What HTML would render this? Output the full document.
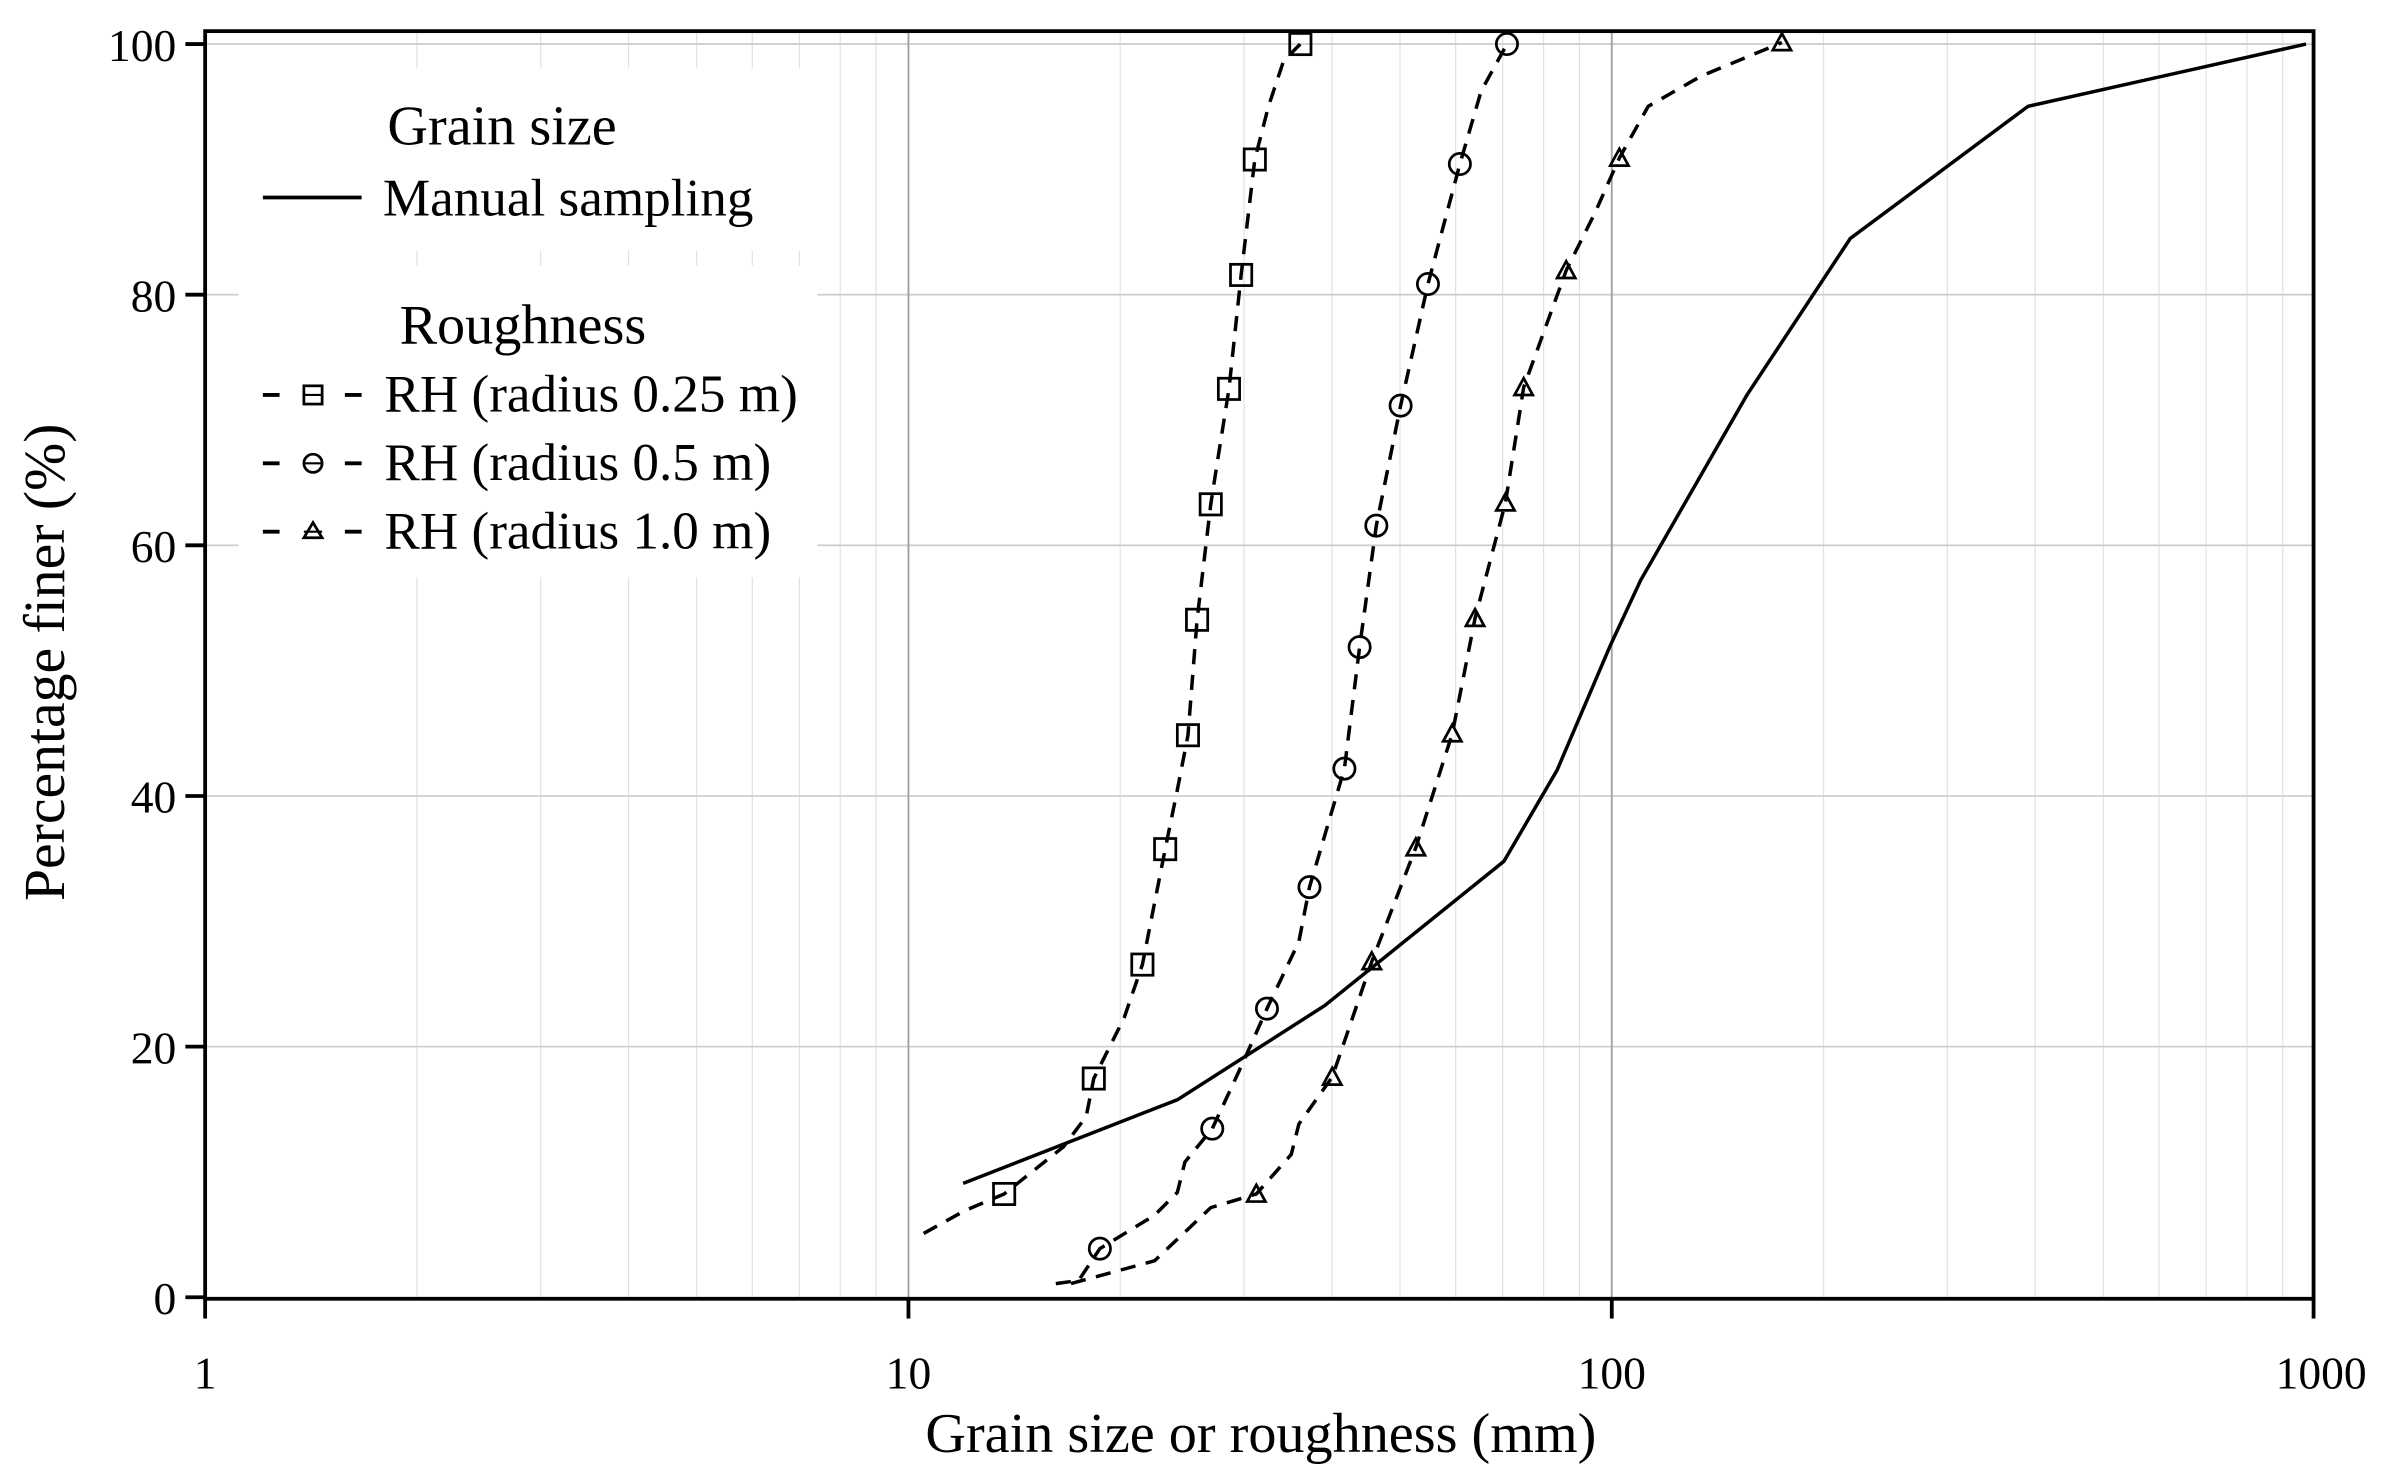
<!DOCTYPE html>
<html><head><meta charset="utf-8"><style>html,body{margin:0;padding:0;background:#fff}svg{display:block}</style></head>
<body>
<svg width="2382" height="1480" viewBox="0 0 1568 974.3" xmlns="http://www.w3.org/2000/svg" font-family="'Liberation Serif', serif">
<rect width="1568" height="974.3" fill="#fff"/>
<g stroke="#e2e2e2" stroke-width="0.8">
<line x1="274.4" y1="21" x2="274.4" y2="855"/><line x1="355.9" y1="21" x2="355.9" y2="855"/><line x1="413.7" y1="21" x2="413.7" y2="855"/><line x1="458.6" y1="21" x2="458.6" y2="855"/><line x1="495.2" y1="21" x2="495.2" y2="855"/><line x1="526.2" y1="21" x2="526.2" y2="855"/><line x1="553.1" y1="21" x2="553.1" y2="855"/><line x1="576.7" y1="21" x2="576.7" y2="855"/>
<line x1="737.4" y1="21" x2="737.4" y2="855"/><line x1="818.9" y1="21" x2="818.9" y2="855"/><line x1="876.7" y1="21" x2="876.7" y2="855"/><line x1="921.6" y1="21" x2="921.6" y2="855"/><line x1="958.2" y1="21" x2="958.2" y2="855"/><line x1="989.2" y1="21" x2="989.2" y2="855"/><line x1="1016.1" y1="21" x2="1016.1" y2="855"/><line x1="1039.7" y1="21" x2="1039.7" y2="855"/>
<line x1="1200.4" y1="21" x2="1200.4" y2="855"/><line x1="1281.9" y1="21" x2="1281.9" y2="855"/><line x1="1339.7" y1="21" x2="1339.7" y2="855"/><line x1="1384.6" y1="21" x2="1384.6" y2="855"/><line x1="1421.2" y1="21" x2="1421.2" y2="855"/><line x1="1452.2" y1="21" x2="1452.2" y2="855"/><line x1="1479.1" y1="21" x2="1479.1" y2="855"/><line x1="1502.7" y1="21" x2="1502.7" y2="855"/>
</g>
<g stroke="#cfcfcf" stroke-width="1.2">
<line x1="135" y1="29" x2="1523" y2="29"/><line x1="135" y1="194" x2="1523" y2="194"/><line x1="135" y1="359" x2="1523" y2="359"/><line x1="135" y1="524" x2="1523" y2="524"/><line x1="135" y1="689" x2="1523" y2="689"/>
</g>
<g stroke="#a0a0a0" stroke-width="1.2"><line x1="598" y1="21" x2="598" y2="855"/><line x1="1061" y1="21" x2="1061" y2="855"/></g>
<rect x="157" y="45" width="381" height="120" fill="#fff"/>
<rect x="157" y="175" width="381" height="205" fill="#fff"/>
<rect x="135" y="20.5" width="1388" height="834.5" fill="none" stroke="#000" stroke-width="2.5"/>
<g stroke="#000" stroke-width="2.5">
<line x1="122" y1="29" x2="135" y2="29"/><line x1="122" y1="194" x2="135" y2="194"/><line x1="122" y1="359" x2="135" y2="359"/><line x1="122" y1="524" x2="135" y2="524"/><line x1="122" y1="689" x2="135" y2="689"/><line x1="122" y1="854" x2="135" y2="854"/>
<line x1="135" y1="855" x2="135" y2="868"/><line x1="598" y1="855" x2="598" y2="868"/><line x1="1061" y1="855" x2="1061" y2="868"/><line x1="1523" y1="855" x2="1523" y2="868"/>
</g>
<g font-size="30" fill="#000" text-anchor="end">
<text x="116" y="40">100</text><text x="116" y="205">80</text><text x="116" y="370">60</text><text x="116" y="535">40</text><text x="116" y="700">20</text><text x="116" y="865">0</text>
</g>
<g font-size="30" fill="#000" text-anchor="middle">
<text x="135" y="914">1</text><text x="598" y="914">10</text><text x="1061" y="914">100</text><text x="1528" y="914">1000</text>
</g>
<text x="830" y="956" font-size="37" text-anchor="middle">Grain size or roughness (mm)</text>
<text transform="translate(42,436) rotate(-90)" font-size="38" text-anchor="middle">Percentage finer (%)</text>
<g fill="none" stroke="#000" stroke-width="2.3">
<polyline points="634,779 775,724 872,662 990,567 1025,507 1060,425 1080,382 1150,260 1218,157 1335,70 1518,29"/>
<g stroke-dasharray="10,7">
<polyline points="608,812 635,797 661,786 700,755 715,735 720,710 740,670 752,635 767,559 775,520 782,484 788,408 797,332 802,300 809,256 817,181 826,105 835,70 845,40 856,29"/>
<polyline points="695,845 710,843 724,822 760,800 775,785 780,765 798,743 818,700 834,664 855,620 862,584 885,506 895,426 906,346 922,267 940,187 961,108 975,60 992,29"/>
<polyline points="705,845 760,830 797,795 827,786 850,760 855,740 877,709 903,633 932,558 956,483 971,407 991,331 1003,255 1031,178 1050,140 1066,104 1085,70 1120,50 1173,28"/>
</g>
</g>
<g fill="none" stroke="#000" stroke-width="1.8">
<rect x="654" y="779" width="14" height="14"/><rect x="713" y="703" width="14" height="14"/><rect x="745" y="628" width="14" height="14"/><rect x="760" y="552" width="14" height="14"/><rect x="775" y="477" width="14" height="14"/><rect x="781" y="401" width="14" height="14"/><rect x="790" y="325" width="14" height="14"/><rect x="802" y="249" width="14" height="14"/><rect x="810" y="174" width="14" height="14"/><rect x="819" y="98" width="14" height="14"/><rect x="849" y="22" width="14" height="14"/>
<circle cx="724" cy="822" r="7"/><circle cx="798" cy="743" r="7"/><circle cx="834" cy="664" r="7"/><circle cx="862" cy="584" r="7"/><circle cx="885" cy="506" r="7"/><circle cx="895" cy="426" r="7"/><circle cx="906" cy="346" r="7"/><circle cx="922" cy="267" r="7"/><circle cx="940" cy="187" r="7"/><circle cx="961" cy="108" r="7"/><circle cx="992" cy="29" r="7"/>
<polygon points="827,780 821,791 833,791"/><polygon points="877,703 871,714 883,714"/><polygon points="903,627 897,638 909,638"/><polygon points="932,552 926,563 938,563"/><polygon points="956,477 950,488 962,488"/><polygon points="971,401 965,412 977,412"/><polygon points="991,325 985,336 997,336"/><polygon points="1003,249 997,260 1009,260"/><polygon points="1031,172 1025,183 1037,183"/><polygon points="1066,98 1060,109 1072,109"/><polygon points="1173,22 1167,33 1179,33"/>
</g>
<g fill="#000">
<text x="255" y="95" font-size="37">Grain size</text>
<line x1="173" y1="130" x2="238" y2="130" stroke="#000" stroke-width="2.5"/>
<text x="252" y="142" font-size="35">Manual sampling</text>
<text x="263" y="226" font-size="37">Roughness</text>
<text x="253" y="271" font-size="35">RH (radius 0.25 m)</text>
<text x="253" y="316" font-size="35">RH (radius 0.5 m)</text>
<text x="253" y="361" font-size="35">RH (radius 1.0 m)</text>
</g>
<g stroke="#000" stroke-width="2.5" fill="none">
<line x1="173" y1="260" x2="184" y2="260"/><line x1="227" y1="260" x2="238" y2="260"/><rect x="200" y="254" width="12" height="12" stroke-width="1.8"/><line x1="200" y1="260" x2="212" y2="260" stroke-width="1.4"/>
<line x1="173" y1="305" x2="184" y2="305"/><line x1="227" y1="305" x2="238" y2="305"/><circle cx="206" cy="305" r="6" stroke-width="1.8"/><line x1="200" y1="305" x2="212" y2="305" stroke-width="1.4"/>
<line x1="173" y1="350" x2="184" y2="350"/><line x1="227" y1="350" x2="238" y2="350"/><polygon points="206,344 200,354 212,354" stroke-width="1.8"/><line x1="200" y1="350" x2="212" y2="350" stroke-width="1.4"/>
</g>
</svg>
</body></html>
